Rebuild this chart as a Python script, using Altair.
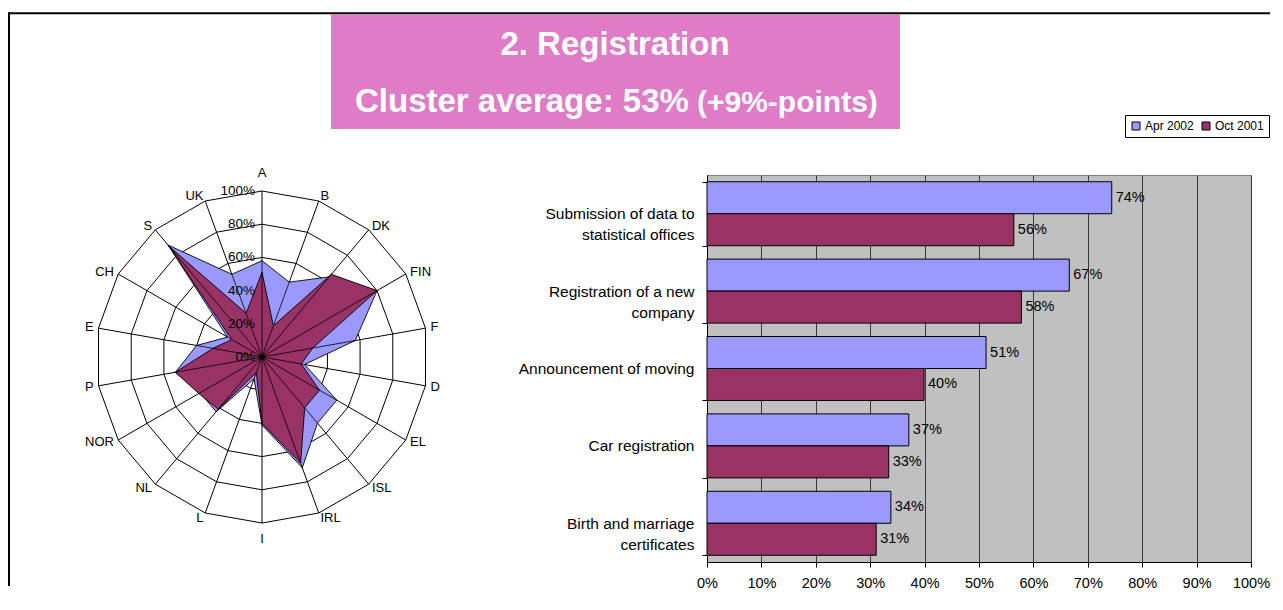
import math
import altair as alt
import pandas as pd

# ---------------- data ----------------
countries = ["A", "B", "DK", "FIN", "F", "D", "EL", "ISL", "IRL", "I",
             "L", "NL", "NOR", "P", "E", "CH", "S", "UK"]
radar_apr_2002 = [58, 48, 63, 80, 57, 26, 52, 52, 71, 41, 14, 43, 43, 53, 40, 24, 88, 53]
radar_oct_2001 = [51, 20, 65, 80, 31, 24, 40, 40, 68, 40, 10, 41, 44, 53, 30, 21, 87, 28]
ring_levels = [20, 40, 60, 80, 100]
ring_tick_levels = [0, 20, 40, 60, 80, 100]

tasks = ["Submission of data to|statistical offices",
         "Registration of a new|company",
         "Announcement of moving",
         "Car registration",
         "Birth and marriage|certificates"]
bar_apr_2002 = [74.4, 66.6, 51.3, 37.1, 33.8]
bar_oct_2001 = [56.4, 57.8, 39.9, 33.4, 31.1]
series_names = ["Apr 2002", "Oct 2001"]
series_colors = ["#9999FF", "#993366"]
x_tick_values = [0, 10, 20, 30, 40, 50, 60, 70, 80, 90, 100]

title_line1 = "2. Registration"
title_line2a = "Cluster average: 53%"
title_line2b = "(+9%-points)"

FONT = "Liberation Sans"

# ---------------- radar tables ----------------
n = len(countries)
ang = [2 * math.pi * i / n for i in range(n)]

series_rows = []
for sname, vals in zip(series_names, [radar_apr_2002, radar_oct_2001]):
    for i, (c, v) in enumerate(zip(countries, vals)):
        r = v / 100.0
        series_rows.append({"series": sname, "country": c, "idx": i,
                            "x": r * math.sin(ang[i]), "y": r * math.cos(ang[i]),
                            "cx": 0.0, "cy": 0.0})
series_df = pd.DataFrame(series_rows)

ring_rows = []
for lv in ring_levels:
    for i in range(n):
        r = lv / 100.0
        ring_rows.append({"level": lv, "idx": i,
                          "x": r * math.sin(ang[i]), "y": r * math.cos(ang[i])})
ring_df = pd.DataFrame(ring_rows)

spoke_df = pd.DataFrame({"idx": list(range(n)),
                         "x": [math.sin(a) for a in ang],
                         "y": [math.cos(a) for a in ang],
                         "cx": 0.0, "cy": 0.0})

lab_rows = []
for i, c in enumerate(countries):
    if i == 0:
        grp, r = "top", 1.065
    elif i == n // 2:
        grp, r = "bottom", 1.06
    elif i < n // 2:
        grp, r = "right", 1.03
    else:
        grp, r = "left", 1.03
    lab_rows.append({"country": c, "grp": grp,
                     "x": r * math.sin(ang[i]), "y": r * math.cos(ang[i])})
lab_df = pd.DataFrame(lab_rows)

tick_df = pd.DataFrame({"level": ring_tick_levels,
                        "label": [f"{v}%" for v in ring_tick_levels],
                        "x": 0.0,
                        "y": [v / 100.0 for v in ring_tick_levels]})
center_df = pd.DataFrame({"x": [0.0], "y": [0.0]})

# radar panel geometry (unit = 100% radius)
R_W, R_H = 600, 387
UNIT = 166.0
cx_px, cy_px = 254.0, 182.0
xs = alt.Scale(domain=[-cx_px / UNIT, (R_W - cx_px) / UNIT], nice=False, zero=False)
ys = alt.Scale(domain=[-(R_H - cy_px) / UNIT, cy_px / UNIT], nice=False, zero=False)


def X(f):
    return alt.X(f, type="quantitative", scale=xs, axis=None)


def Y(f):
    return alt.Y(f, type="quantitative", scale=ys, axis=None)


rings = alt.Chart(ring_df).mark_line(
    interpolate="linear-closed", stroke="black", strokeWidth=1
).encode(x=X("x"), y=Y("y"), detail="level:N", order=alt.Order("idx:Q"))

spokes = alt.Chart(spoke_df).mark_rule(color="black", strokeWidth=1).encode(
    x=X("cx"), y=Y("cy"), x2="x", y2="y")

layers = [rings, spokes]
for sname, col in zip(series_names, series_colors):
    sub = alt.Chart(series_df).transform_filter(alt.datum.series == sname)
    poly = sub.mark_line(interpolate="linear-closed", fill=col, fillOpacity=1,
                         stroke="black", strokeWidth=0.9).encode(
        x=X("x"), y=Y("y"), order=alt.Order("idx:Q"))
    rad = sub.mark_rule(color="black", strokeWidth=0.8).encode(
        x=X("cx"), y=Y("cy"), x2="x", y2="y")
    layers += [poly, rad]

dot = alt.Chart(center_df).mark_circle(color="black", size=30, opacity=1).encode(
    x=X("x"), y=Y("y"))
layers.append(dot)

for grp, align, baseline in [("top", "center", "bottom"), ("bottom", "center", "top"),
                             ("right", "left", "middle"), ("left", "right", "middle")]:
    layers.append(
        alt.Chart(lab_df).transform_filter(alt.datum.grp == grp).mark_text(
            align=align, baseline=baseline, fontSize=13, font=FONT, color="black"
        ).encode(x=X("x"), y=Y("y"), text="country:N"))

layers.append(
    alt.Chart(tick_df).mark_text(align="right", baseline="middle", dx=-7,
                                 fontSize=13.5, font=FONT, color="black").encode(
        x=X("x"), y=Y("y"), text="label:N"))

radar = alt.layer(*layers).properties(width=R_W, height=R_H)

# ---------------- bar chart ----------------
bar_rows = []
for sname, vals in zip(series_names, [bar_apr_2002, bar_oct_2001]):
    for t, v in zip(tasks, vals):
        bar_rows.append({"task": t, "series": sname, "value": v / 100.0})
bar_df = pd.DataFrame(bar_rows)

y_enc = alt.Y("task:N", sort=tasks,
              scale=alt.Scale(paddingInner=0.173, paddingOuter=0.087),
              axis=alt.Axis(title=None, tickBand="extent", tickSize=5, tickColor="black",
                            domainColor="black", labelExpr="split(datum.label, '|')",
                            labelFontSize=15.5, labelFont=FONT, labelColor="black",
                            labelAlign="right", labelBaseline="middle",
                            labelLineHeight=21, labelPadding=8, labelLimit=400,
                            grid=False))
x_enc = alt.X("value:Q",
              scale=alt.Scale(domain=[0, 1], nice=False),
              axis=alt.Axis(title=None, values=[v / 100 for v in x_tick_values],
                            format=".0%", tickSize=5, tickColor="black",
                            domainColor="black", labelFontSize=14.5, labelFont=FONT,
                            labelColor="black", labelPadding=9, grid=True,
                            gridColor="#3a3a3a", gridWidth=1, gridOpacity=1,
                            labelFlush=False))
yoff = alt.YOffset("series:N", sort=series_names)

bars = alt.Chart(bar_df).mark_bar(stroke="black", strokeWidth=1, opacity=1).encode(
    x=x_enc, y=y_enc, yOffset=yoff,
    color=alt.Color("series:N",
                    scale=alt.Scale(domain=series_names, range=series_colors),
                    legend=alt.Legend(orient="none", legendX=1117, legendY=107,
                                      direction="horizontal", title=None,
                                      symbolType="square", symbolSize=64,
                                      symbolStrokeColor="black", symbolStrokeWidth=1,
                                      labelFontSize=12, labelFont=FONT,
                                      labelColor="black", labelOffset=3,
                                      columnPadding=6, padding=5,
                                      strokeColor="black", fillColor="white")))

bar_text = alt.Chart(bar_df).mark_text(align="left", baseline="middle", dx=4,
                                       fontSize=14.5, font=FONT, color="black").encode(
    x=alt.X("value:Q"), y=alt.Y("task:N", sort=tasks), yOffset=yoff,
    text=alt.Text("value:Q", format=".0%"))

bar_chart = alt.layer(bars, bar_text).properties(
    width=544, height=387,
    view=alt.ViewBackground(fill="#C0C0C0", stroke="#808080", strokeWidth=1))

# ---------------- title panel ----------------
title_df = pd.DataFrame({"l1": [title_line1], "l2a": [title_line2a], "l2b": [title_line2b]})
tbase = alt.Chart(title_df)
frame_top = tbase.mark_rule(color="black", strokeWidth=2).encode(
    x=alt.value(1), x2=alt.value(1262), y=alt.value(5.3))
frame_left = tbase.mark_rule(color="black", strokeWidth=2).encode(
    x=alt.value(1), y=alt.value(4.3), y2=alt.value(578))
pink = tbase.mark_rect(color="#E07BC7").encode(
    x=alt.value(323), x2=alt.value(892), y=alt.value(6.5), y2=alt.value(121))
t1 = tbase.mark_text(align="center", baseline="alphabetic", fontSize=33,
                     fontWeight="bold", font=FONT, color="white").encode(
    x=alt.value(607), y=alt.value(47), text="l1:N")
t2a = tbase.mark_text(align="left", baseline="alphabetic", fontSize=33,
                      fontWeight="bold", font=FONT, color="white").encode(
    x=alt.value(347), y=alt.value(104), text="l2a:N")
t2b = tbase.mark_text(align="left", baseline="alphabetic", fontSize=30,
                      fontWeight="bold", font=FONT, color="white").encode(
    x=alt.value(689), y=alt.value(104), text="l2b:N")
title_panel = alt.layer(pink, frame_top, frame_left, t1, t2a, t2b).properties(
    width=1261, height=121)

row = alt.hconcat(radar, bar_chart, spacing=99, bounds="flush")
chart = alt.vconcat(title_panel, row, spacing=46, bounds="flush").properties(
    padding=0
).configure(font=FONT).configure_view(stroke=None)

chart.save("out.html", embed_options={"renderer": "svg", "actions": False})
